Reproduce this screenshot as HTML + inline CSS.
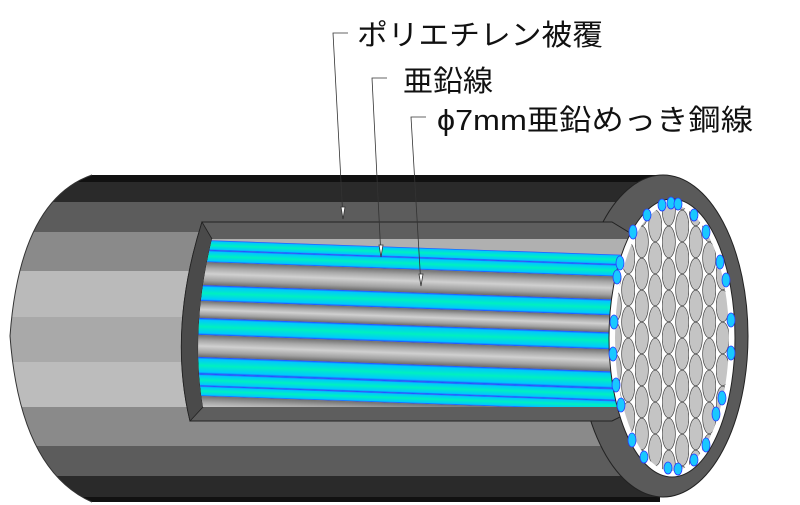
<!DOCTYPE html>
<html><head><meta charset="utf-8"><style>
html,body{margin:0;padding:0;background:#fff;width:800px;height:505px;overflow:hidden}
svg{display:block}
text{font-family:"Liberation Sans","Noto Sans CJK JP",sans-serif;fill:#111}
</style></head><body>
<svg width="800" height="505" viewBox="0 0 800 505" xmlns="http://www.w3.org/2000/svg">
<defs>
<clipPath id="body"><path d="M660 175 L92 175 Q20 200 10 336 Q20 470 92 502 L660 502 Z"/></clipPath>
<clipPath id="open"><path d="M212 239 L650 239 L650 407 L203 407 Q190 330 212 239 Z"/></clipPath>
<linearGradient id="cy" x1="0" y1="0" x2="0" y2="1">
<stop offset="0" stop-color="#2a3cff"/><stop offset="0.12" stop-color="#00c8ff"/><stop offset="0.5" stop-color="#00f0c0"/><stop offset="0.88" stop-color="#00c8ff"/><stop offset="1" stop-color="#2a3cff"/></linearGradient>
<linearGradient id="gr" x1="0" y1="0" x2="0" y2="1">
<stop offset="0" stop-color="#707070"/><stop offset="0.25" stop-color="#a8a8a8"/><stop offset="0.5" stop-color="#d0d0d0"/><stop offset="0.8" stop-color="#a0a0a0"/><stop offset="1" stop-color="#6a6a6a"/></linearGradient>
<pattern id="hex" width="27" height="32" patternUnits="userSpaceOnUse" x="608" y="322">
<rect width="27" height="32" fill="#fff"/>
<ellipse cx="6.75" cy="16" rx="6.6" ry="15.8" fill="#c4c4c4" stroke="#444" stroke-width="0.7"/>
<ellipse cx="20.25" cy="0" rx="6.6" ry="15.8" fill="#c4c4c4" stroke="#444" stroke-width="0.7"/>
<ellipse cx="20.25" cy="32" rx="6.6" ry="15.8" fill="#c4c4c4" stroke="#444" stroke-width="0.7"/>
</pattern>
</defs>
<g clip-path="url(#body)">
<rect x="0" y="175" width="680" height="7" fill="#111"/>
<rect x="0" y="182" width="680" height="20" fill="#2a2a2a"/>
<rect x="0" y="202" width="680" height="30" fill="#5c5c5c"/>
<rect x="0" y="232" width="680" height="39" fill="#8a8a8a"/>
<rect x="0" y="271" width="680" height="46" fill="#bababa"/>
<rect x="0" y="317" width="680" height="45" fill="#a9a9a9"/>
<rect x="0" y="362" width="680" height="45" fill="#bcbcbc"/>
<rect x="0" y="407" width="680" height="39" fill="#8a8a8a"/>
<rect x="0" y="446" width="680" height="30" fill="#5c5c5c"/>
<rect x="0" y="476" width="680" height="21" fill="#2a2a2a"/>
<rect x="0" y="497" width="680" height="8" fill="#111"/>
</g>
<path d="M92 175 Q20 200 10 336 Q20 470 92 502" fill="none" stroke="#333" stroke-width="1"/>
<!-- end ring -->
<ellipse cx="663" cy="336" rx="85" ry="161" fill="#5a5a5a" stroke="#222" stroke-width="1"/>
<!-- window -->
<path d="M202 222 L612 222 L640 239 L640 407 L612 421 L190 421 Q168 330 202 222 Z" fill="#5e5e5e" stroke="#222" stroke-width="1"/>
<path d="M202 222 L212 239 Q190 330 203 407 L190 421 Q168 330 202 222 Z" fill="#4a4a4a" stroke="#222" stroke-width="0.8"/>
<g clip-path="url(#open)">
<rect x="180" y="230" width="470" height="190" fill="#b0b0b0"/>
<g transform="matrix(1,0.035,0,1,0,-7)">
<rect x="180" y="240" width="470" height="10" fill="url(#cy)"/>
<rect x="180" y="250" width="470" height="12" fill="url(#cy)"/>
<rect x="180" y="262" width="470" height="23" fill="url(#gr)"/>
<rect x="180" y="285" width="470" height="16" fill="url(#cy)"/>
<rect x="180" y="301" width="470" height="17" fill="url(#gr)"/>
<rect x="180" y="318" width="470" height="17" fill="url(#cy)"/>
<rect x="180" y="335" width="470" height="22" fill="url(#gr)"/>
<rect x="180" y="357" width="470" height="17" fill="url(#cy)"/>
<rect x="180" y="374" width="470" height="12" fill="url(#cy)"/>
<rect x="180" y="386" width="470" height="10" fill="url(#cy)"/>
<rect x="180" y="396" width="470" height="25" fill="url(#gr)"/>
</g>
</g>
<ellipse cx="672" cy="338" rx="63" ry="139" fill="#fff" stroke="#222" stroke-width="1"/>
<ellipse cx="672" cy="338" rx="57" ry="133" fill="url(#hex)"/>
<g fill="#19c8ff" stroke="#2a3cff" stroke-width="0.8">
<ellipse cx="662" cy="205" rx="4" ry="6"/><ellipse cx="671" cy="203" rx="4" ry="6"/><ellipse cx="678" cy="204" rx="4" ry="6"/>
<ellipse cx="694" cy="215" rx="4" ry="6"/><ellipse cx="706" cy="232" rx="4" ry="7"/><ellipse cx="720" cy="262" rx="4" ry="7"/>
<ellipse cx="726" cy="280" rx="4" ry="7"/><ellipse cx="731" cy="320" rx="4" ry="7"/><ellipse cx="731" cy="353" rx="4" ry="7"/>
<ellipse cx="722" cy="398" rx="4" ry="7"/><ellipse cx="716" cy="414" rx="4" ry="7"/><ellipse cx="706" cy="445" rx="4" ry="7"/>
<ellipse cx="694" cy="460" rx="4" ry="6"/><ellipse cx="678" cy="469" rx="4" ry="6"/><ellipse cx="668" cy="468" rx="4" ry="6"/>
<ellipse cx="644" cy="457" rx="4" ry="6"/><ellipse cx="632" cy="440" rx="4" ry="7"/><ellipse cx="621" cy="405" rx="4" ry="7"/>
<ellipse cx="616" cy="385" rx="4" ry="7"/><ellipse cx="613" cy="354" rx="4" ry="7"/><ellipse cx="614" cy="322" rx="4" ry="7"/>
<ellipse cx="617" cy="277" rx="4" ry="7"/><ellipse cx="620" cy="263" rx="4" ry="7"/><ellipse cx="633" cy="232" rx="4" ry="7"/>
<ellipse cx="647" cy="215" rx="4" ry="6"/>
</g>
<!-- leaders -->
<g stroke="#333" stroke-width="0.8" fill="none">
<polyline points="348,33 333,33 343,219"/>
<polyline points="387,78 372,78 381,257"/>
<polyline points="426,117 411,117 421,286"/>
</g>
<g fill="#fff" stroke="#333" stroke-width="0.8">
<path d="M341 207 L345 207 L343 219 Z"/>
<path d="M379 245 L383 245 L381 257 Z"/>
<path d="M419 274 L423 274 L421 286 Z"/>
</g>
<text x="357" y="45" font-size="29" textLength="246" lengthAdjust="spacingAndGlyphs">ポリエチレン被覆</text>
<text x="403" y="91" font-size="29" textLength="90" lengthAdjust="spacingAndGlyphs">亜鉛線</text>
<text x="437" y="130" font-size="29" textLength="316" lengthAdjust="spacingAndGlyphs">ϕ7mm亜鉛めっき鋼線</text>
</svg>
</body></html>
